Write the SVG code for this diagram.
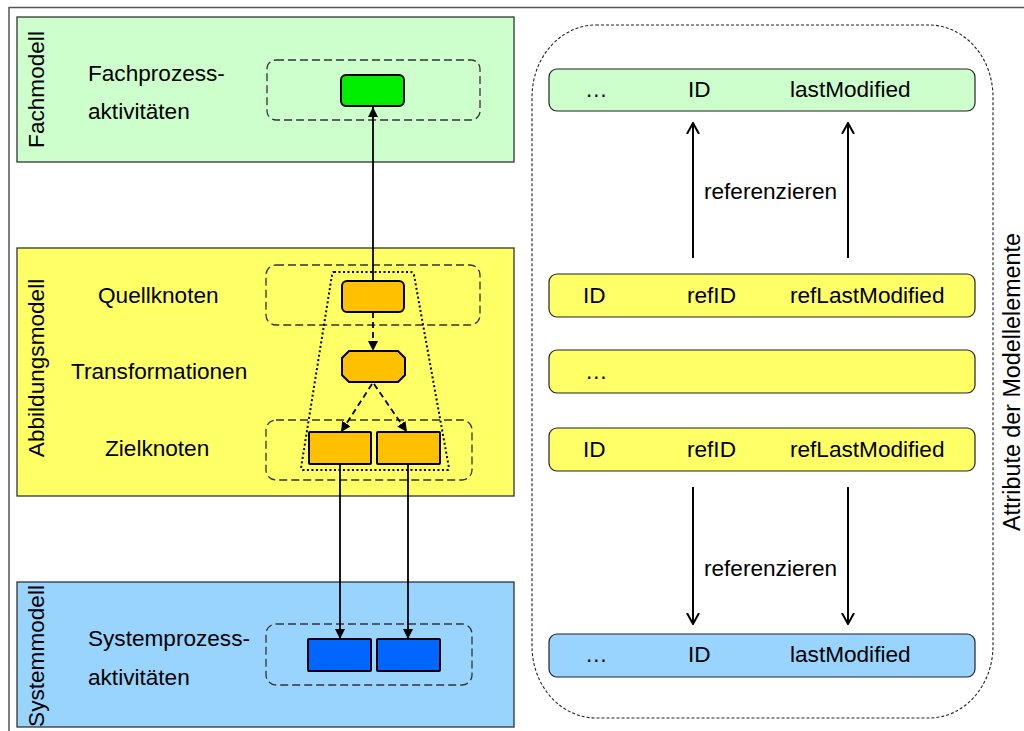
<svg xmlns="http://www.w3.org/2000/svg" width="1024" height="731" viewBox="0 0 1024 731">
<defs>
<style>
text{font-family:"Liberation Sans",Arial,sans-serif;font-size:22.6px;fill:#000}
.panel{stroke:#333;stroke-width:1.3}
.grp{fill:none;stroke:#333;stroke-width:1.3;stroke-dasharray:8 4}
.node{stroke:#000;stroke-width:2}
.row{stroke:#222;stroke-width:1.2}
.conn{fill:none;stroke:#000;stroke-width:1.8}
.dash{stroke-dasharray:6 4}
.ref{fill:none;stroke:#000;stroke-width:2}
</style>
<marker id="ah" viewBox="0 0 10 10" refX="10" refY="5" markerWidth="10" markerHeight="10" markerUnits="userSpaceOnUse" orient="auto">
<path d="M0,0 L10,5 L0,10 z" fill="#000"/>
</marker>
<marker id="open" viewBox="0 0 12 14" refX="11" refY="7" markerWidth="12" markerHeight="14" markerUnits="userSpaceOnUse" orient="auto">
<path d="M0,1 L11,7 L0,13" fill="none" stroke="#000" stroke-width="2"/>
</marker>
</defs>
<rect width="1024" height="731" fill="#fff"/>
<path d="M9,731 V7.5 H1024" fill="none" stroke="#555" stroke-width="1.5"/>

<g id="fachmodell">
<rect class="panel" x="17" y="17" width="497" height="145" fill="#ccffcc"/>
<text transform="translate(44,89.5) rotate(-90)" text-anchor="middle">Fachmodell</text>
<text x="88" y="81">Fachprozess-</text>
<text x="88" y="119">aktivitäten</text>
<rect class="grp" x="267" y="60" width="213" height="60" rx="9"/>
<rect id="fach-node" class="node" x="341" y="75" width="63" height="31" rx="5" fill="#00ee00"/>
</g>

<g id="abbildungsmodell">
<rect class="panel" x="17" y="248" width="497" height="248" fill="#ffff66"/>
<text transform="translate(44,368) rotate(-90)" text-anchor="middle">Abbildungsmodell</text>
<text x="98" y="303">Quellknoten</text>
<text x="71" y="379">Transformationen</text>
<text x="105" y="456">Zielknoten</text>
<rect class="grp" x="266" y="265" width="214" height="60" rx="10"/>
<rect class="grp" x="266" y="420" width="206" height="60" rx="10"/>
<path d="M334,272 H411 Q413,272 414,275 L449,468 Q449,470 447,470 H303 Q301,470 301,468 L332,275 Q332,272 334,272 Z" fill="none" stroke="#000" stroke-width="2" stroke-dasharray="2 2.5"/>
<rect id="quell-node" class="node" x="342" y="281" width="62" height="31" rx="5" fill="#ffc000"/>
<polygon id="trans-node" class="node" points="349,351 398,351 405,358 405,375 398,382 349,382 342,375 342,358" fill="#ffc000"/>
<rect id="ziel-node-1" class="node" x="309" y="432" width="62" height="32" rx="1" fill="#ffc000"/>
<rect id="ziel-node-2" class="node" x="377" y="432" width="63" height="32" rx="1" fill="#ffc000"/>
</g>

<g id="systemmodell">
<rect class="panel" x="17" y="582" width="497" height="145" fill="#99d4ff"/>
<text transform="translate(44,656) rotate(-90)" text-anchor="middle">Systemmodell</text>
<text x="88" y="646">Systemprozess-</text>
<text x="88" y="685">aktivitäten</text>
<rect class="grp" x="266" y="624" width="206" height="61" rx="10" stroke="#334455"/>
<rect id="sys-node-1" class="node" x="308" y="639" width="63" height="32" rx="1" fill="#0066ff"/>
<rect id="sys-node-2" class="node" x="377" y="639" width="63" height="32" rx="1" fill="#0066ff"/>
</g>

<g id="attribute">
<rect x="532" y="25" width="461" height="693" rx="64" ry="72" fill="none" stroke="#222" stroke-width="1.1" stroke-dasharray="3 2"/>
<text transform="translate(1020,382) rotate(-90)" text-anchor="middle" style="font-size:23.3px">Attribute der Modellelemente</text>
<g id="row-fach">
<rect class="row" x="549" y="69" width="426" height="42" rx="8" fill="#ccffcc"/>
<text x="585" y="97">…</text><text x="688" y="97">ID</text><text x="790" y="97">lastModified</text>
</g>
<g id="row-abb-1">
<rect class="row" x="549" y="274" width="426" height="43" rx="8" fill="#ffff66"/>
<text x="583" y="303">ID</text><text x="687" y="303">refID</text><text x="790" y="303">refLastModified</text>
</g>
<g id="row-abb-2">
<rect class="row" x="549" y="350" width="426" height="43" rx="8" fill="#ffff66"/>
<text x="585" y="379">…</text>
</g>
<g id="row-abb-3">
<rect class="row" x="549" y="428" width="426" height="43" rx="8" fill="#ffff66"/>
<text x="583" y="457">ID</text><text x="687" y="457">refID</text><text x="790" y="457">refLastModified</text>
</g>
<g id="row-sys">
<rect class="row" x="549" y="634" width="426" height="43" rx="8" fill="#99d4ff"/>
<text x="585" y="662">…</text><text x="688" y="662">ID</text><text x="790" y="662">lastModified</text>
</g>
<text x="704" y="199">referenzieren</text>
<text x="704" y="576">referenzieren</text>
</g>

<g id="connectors">
<line class="conn" x1="373" y1="281" x2="373" y2="107" marker-end="url(#ah)"/>
<line class="conn dash" x1="373" y1="312" x2="373" y2="351" marker-end="url(#ah)"/>
<line class="conn dash" x1="372" y1="384" x2="341" y2="432" marker-end="url(#ah)"/>
<line class="conn dash" x1="374" y1="384" x2="407" y2="432" marker-end="url(#ah)"/>
<line class="conn" x1="340" y1="464" x2="340" y2="639" marker-end="url(#ah)"/>
<line class="conn" x1="408" y1="464" x2="408" y2="639" marker-end="url(#ah)"/>
<line class="ref" x1="693" y1="258" x2="693" y2="123" marker-end="url(#open)"/>
<line class="ref" x1="848" y1="258" x2="848" y2="123" marker-end="url(#open)"/>
<line class="ref" x1="693" y1="487" x2="693" y2="624" marker-end="url(#open)"/>
<line class="ref" x1="848" y1="487" x2="848" y2="624" marker-end="url(#open)"/>
</g>
</svg>
